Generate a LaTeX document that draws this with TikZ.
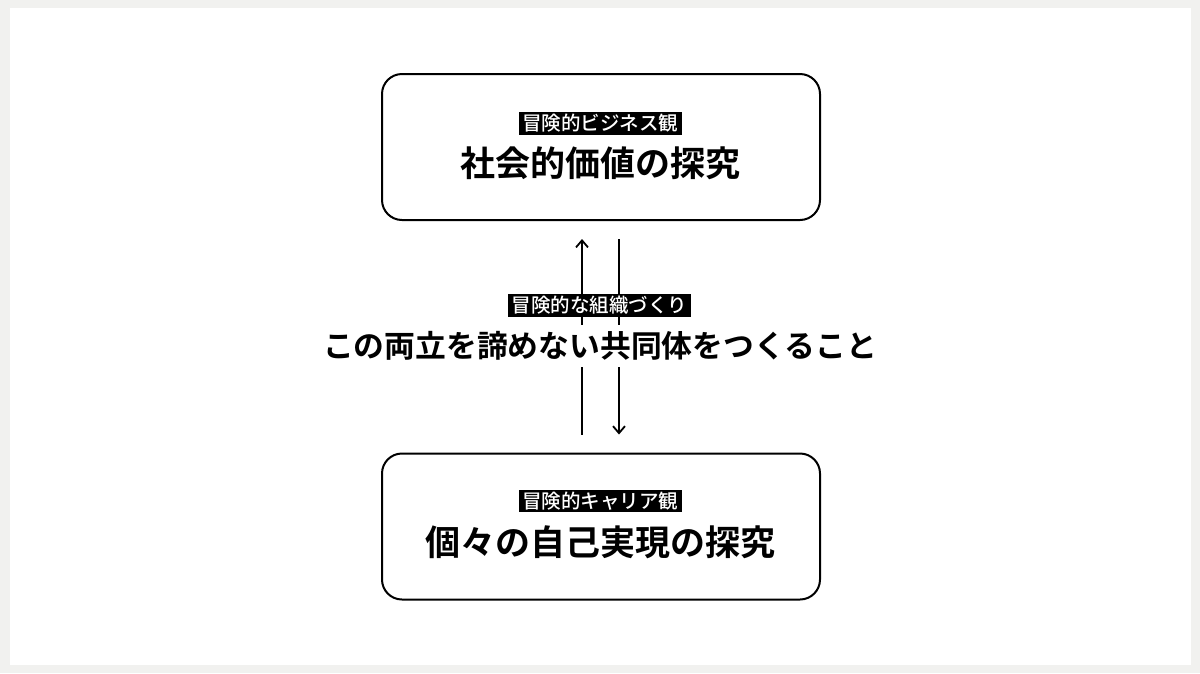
\documentclass[tikz,border=0pt]{standalone}
\usepackage{fontspec}
\usetikzlibrary{arrows.meta,calc}
\newfontfamily\jp{Noto Sans CJK JP}[BoldFont={Noto Sans CJK JP Bold}]
\newfontfamily\jpm{Noto Sans CJK JP Medium}
\definecolor{bggray}{HTML}{F1F1EF}
\tikzset{
  x=1pt, y=-1pt,
  panel/.style={draw=black, line width=2pt, rounded corners=20pt, fill=white,
    minimum width=438pt, minimum height=146pt, inner sep=0pt},
  tag/.style={fill=black, text=white, font=\jpm\fontsize{19.5}{19.5}\selectfont,
    inner xsep=3.5pt, inner ysep=1.5pt, text height=17.2pt, text depth=2.4pt},
  headline/.style={font=\jp\bfseries\fontsize{35}{35}\selectfont, inner sep=0pt,
    text height=30.8pt, text depth=4.2pt},
  midline/.style={font=\jp\bfseries\fontsize{30.8}{30.8}\selectfont, fill=white,
    inner xsep=2pt, inner ysep=6pt, text height=27pt, text depth=3.8pt},
  flow/.style={line width=1.8pt, -{Straight Barb[length=7pt,width=12pt,line width=1.8pt]}}
}
\begin{document}
\begin{tikzpicture}
\useasboundingbox (0,0) rectangle (1200,673);
\fill[bggray] (0,0) rectangle (1200,673);
\fill[white] (10,8) rectangle (1191,665);

\node[panel] (top) at (601,147) {};
\node[tag] (toptag) at (600,123.5) {冒険的ビジネス観};
\node[headline] (tophead) at (600,163) {社会的価値の探究};

\node[panel] (bot) at (601,526.5) {};
\node[tag] (bottag) at (600,501) {冒険的キャリア観};
\node[headline] (bothead) at (600,542) {個々の自己実現の探究};

\draw[flow, shorten <=18pt, shorten >=18pt] (bot.north -| 582,0) -- (top.south -| 582,0);
\draw[flow, shorten <=18pt, shorten >=18pt] (top.south -| 619,0) -- (bot.north -| 619,0);

\node[midline] (mid) at (600,346) {この両立を諦めない共同体をつくること};
\node[tag] (midtag) at (599.5,305.5) {冒険的な組織づくり};
\end{tikzpicture}
\end{document}
